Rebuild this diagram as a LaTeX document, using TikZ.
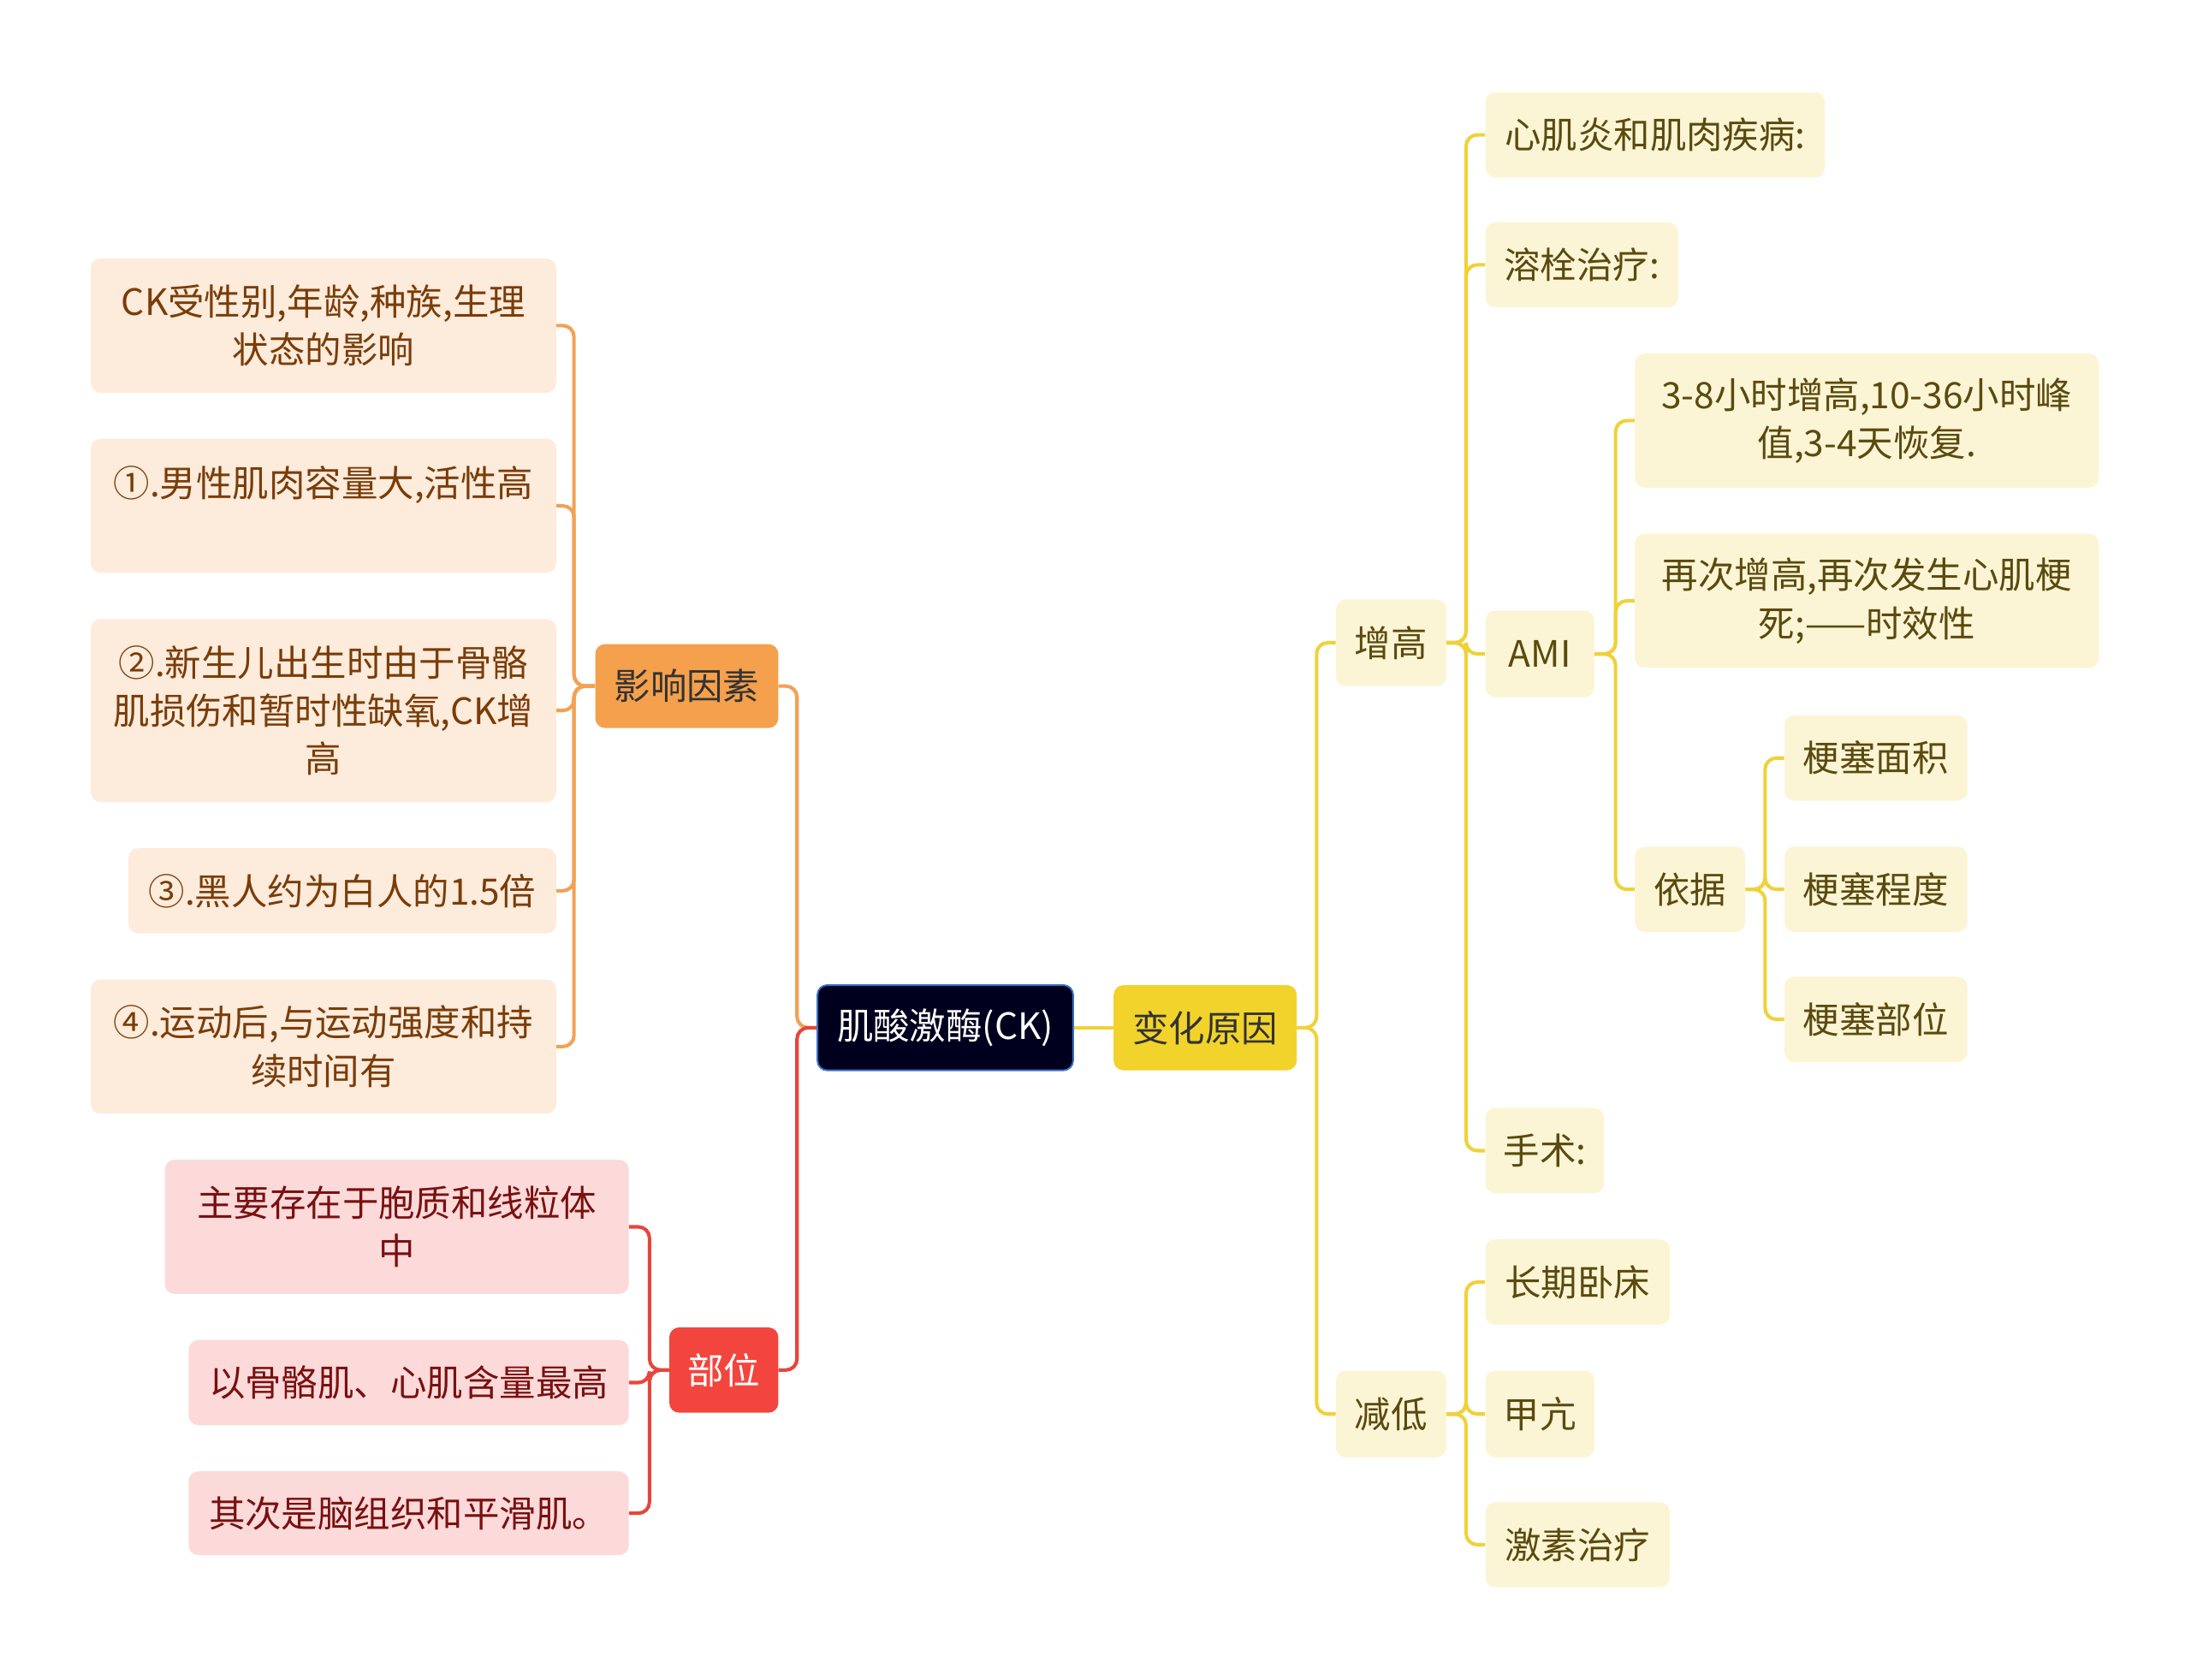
\documentclass[tikz,border=0pt]{standalone}
\usepackage{fontspec}
\setmainfont{Noto Sans CJK SC}
\definecolor{orl}{HTML}{F2A155}
\definecolor{orf}{HTML}{F5A04C}
\definecolor{orp}{HTML}{FDEBDC}
\definecolor{ort}{HTML}{7A3D08}
\definecolor{rdl}{HTML}{E8453C}
\definecolor{rdf}{HTML}{F2453D}
\definecolor{rdp}{HTML}{FCDADA}
\definecolor{rdt}{HTML}{7A1010}
\definecolor{yll}{HTML}{EFD23A}
\definecolor{ylf}{HTML}{F2D32B}
\definecolor{ylp}{HTML}{FCF5D5}
\definecolor{ylt}{HTML}{5A4A0E}
\definecolor{ckf}{HTML}{00001E}
\definecolor{ckd}{HTML}{3A6FC4}
\tikzset{
  box/.style={rectangle, rounded corners=7pt, fill=#1, font=\fontsize{26}{34.5}\selectfont,
              align=center, inner sep=0pt},
  box/.default=ylp,
  wh/.style n args={2}{minimum width=#1pt, minimum height=#2pt},
  link/.style={draw=#1, line width=2.5pt, rounded corners=8pt},
}

\begin{document}
\begin{tikzpicture}[x=1pt, y=-1pt,
  oleaf/.style={box=orp, text=ort},
  rleaf/.style={box=rdp, text=rdt},
  yleaf/.style={box=ylp, text=ylt}]
  \useasboundingbox (0,0) rectangle (1568,1202);
  \node[box=ckf, draw=ckd, line width=1.2pt, text=white, wh={183}{61}] (ck) at (676.5,735.5) {肌酸激酶(CK)};
  \node[box=ylf, text=black!80, wh={131}{61}] (bh) at (862.5,735.5) {变化原因};
  \node[box=orf, text=black!80, wh={131}{60}] (yx) at (491.5,491) {影响因素};
  \node[box=rdf, text=white, wh={78}{61}] (bw) at (518,980.5) {部位};
  \node[oleaf, wh={333}{96}] (o1) at (231.5,233) {CK受性别,年龄,种族,生理\\状态的影响};
  \node[oleaf, wh={333}{96}] (o2) at (231.5,362) {①.男性肌肉容量大,活性高\\\mbox{}};
  \node[oleaf, wh={333}{131}] (o3) at (231.5,508.5) {②.新生儿出生时由于骨骼\\肌损伤和暂时性缺氧,CK增\\高};
  \node[oleaf, wh={306}{61}] (o4) at (245,637.5) {③.黑人约为白人的1.5倍};
  \node[oleaf, wh={333}{96}] (o5) at (231.5,749) {④.运动后,与运动强度和持\\续时间有};
  \node[rleaf, wh={332}{96}] (r1) at (284,878) {主要存在于胞质和线粒体\\中};
  \node[rleaf, wh={315}{61}] (r2) at (292.5,989.5) {以骨骼肌、心肌含量最高};
  \node[rleaf, wh={315}{60}] (r3) at (292.5,1083) {其次是脑组织和平滑肌。};
  \node[yleaf, wh={79}{62}] (zg) at (995.5,460) {增高};
  \node[yleaf, wh={79}{62}] (jd) at (995.5,1012) {减低};
  \node[yleaf, wh={243}{61}] (y1) at (1184.5,96.5) {心肌炎和肌肉疾病:};
  \node[yleaf, wh={138}{61}] (y2) at (1132,189.5) {溶栓治疗:};
  \node[yleaf, wh={78}{62}] (ami) at (1102,468) {AMI};
  \node[yleaf, wh={85}{61}] (ss) at (1105.5,823.5) {手术:};
  \node[yleaf, wh={332}{96}] (a1) at (1336,301) {3-8小时增高,10-36小时峰\\值,3-4天恢复.};
  \node[yleaf, wh={332}{96}] (a2) at (1336,430) {再次增高,再次发生心肌梗\\死;——时效性};
  \node[yleaf, wh={79}{61}] (yj) at (1209.5,636.5) {依据};
  \node[yleaf, wh={131}{61}] (g1) at (1342.5,542.5) {梗塞面积};
  \node[yleaf, wh={131}{61}] (g2) at (1342.5,636.5) {梗塞程度};
  \node[yleaf, wh={131}{61}] (g3) at (1342.5,729.5) {梗塞部位};
  \node[yleaf, wh={132}{61}] (d1) at (1129,917.5) {长期卧床};
  \node[yleaf, wh={78}{62}] (d2) at (1102,1012) {甲亢};
  \node[yleaf, wh={132}{61}] (d3) at (1129,1105.5) {激素治疗};
  \draw[link=yll] (ck.east) -- (bh.west);
  \draw[link=orl] (ck.west) -- ++(-14,0) |- (yx.east);
  \draw[link=rdl] (ck.west) -- ++(-14,0) |- (bw.east);
  \foreach \c in {o1,o2,o3,o4,o5}
    \draw[link=orl] (yx.west) -- ++(-15,0) |- (\c.east);
  \foreach \c in {r1,r2,r3}
    \draw[link=rdl] (bw.west) -- ++(-14,0) |- (\c.east);
  \foreach \c in {zg,jd}
    \draw[link=yll] (bh.east) -- ++(14,0) |- (\c.west);
  \foreach \c in {y1,y2,ami,ss}
    \draw[link=yll] (zg.east) -- ++(14,0) |- (\c.west);
  \foreach \c in {a1,a2,yj}
    \draw[link=yll] (ami.east) -- ++(15,0) |- (\c.west);
  \foreach \c in {g1,g2,g3}
    \draw[link=yll] (yj.east) -- ++(14,0) |- (\c.west);
  \foreach \c in {d1,d2,d3}
    \draw[link=yll] (jd.east) -- ++(14,0) |- (\c.west);
\end{tikzpicture}
\end{document}
